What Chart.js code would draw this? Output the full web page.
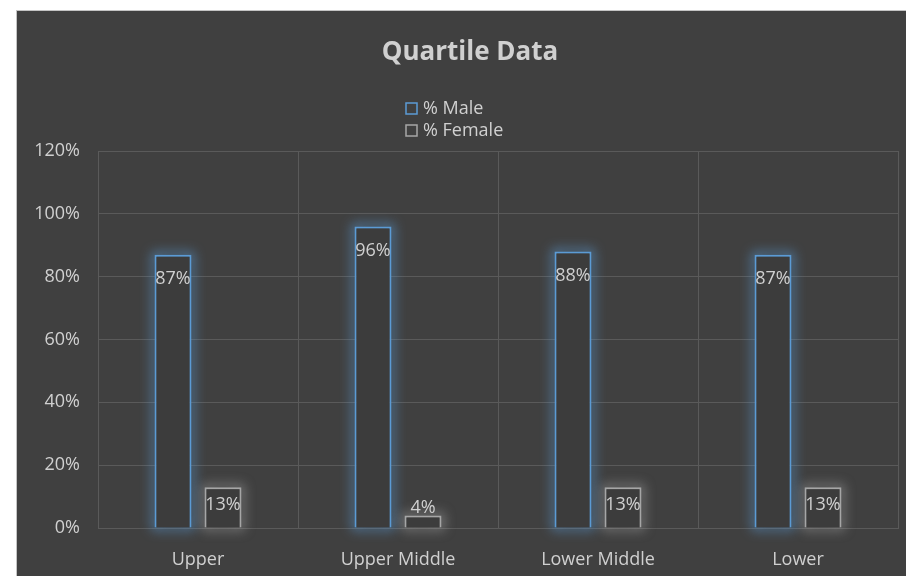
<!DOCTYPE html>
<html>
<head>
<meta charset="utf-8">
<script src="https://cdn.jsdelivr.net/npm/chart.js@4"></script>
<style>
  html, body { margin: 0; padding: 0; background: #ffffff; }
  #wrap {
    position: absolute; left: 16px; top: 10px;
    width: 889px; height: 565px;
    border-left: 1px solid #c4c4c4; border-top: 1px solid #c4c4c4;
    background: #404040;
  }
  canvas { display: block; }
</style>
</head>
<body>
<div id="wrap"><canvas id="quartileChart" width="889" height="565"></canvas></div>
<script>
// ── data ──
const chartTitle = 'Quartile Data';
const categories = ['Upper', 'Upper Middle', 'Lower Middle', 'Lower'];
const maleValues = [87, 96, 88, 87];
const femaleValues = [13, 4, 13, 13];
const yTicks = [0, 20, 40, 60, 80, 100, 120];

const FONT = "'Open Sans', 'DejaVu Sans', sans-serif";
const TEXT = '#d0d0d0';
const GRID = '#5a5a5a';

/* soft glow round the bar outlines: only the shadow of an off-canvas
   rectangle is painted, underneath the bars */
const glowPlugin = {
  id: 'glow',
  beforeDatasetDraw(chart, args) {
    const ds = chart.data.datasets[args.index];
    const ctx = chart.ctx;
    const off = 5000;
    ctx.save();
    ctx.shadowColor = ds.glowColor;
    ctx.shadowBlur = 12;
    ctx.shadowOffsetX = off;
    ctx.strokeStyle = '#000';
    ctx.lineWidth = 4;
    args.meta.data.forEach(bar => {
      const w = bar.width;
      ctx.strokeRect(bar.x - w / 2 - off, bar.y, w, bar.base - bar.y);
    });
    ctx.restore();
  }
};

/* value labels, Excel "inside end" style */
const labelPlugin = {
  id: 'valueLabels',
  afterDatasetsDraw(chart) {
    const ctx = chart.ctx;
    ctx.save();
    ctx.font = '18px ' + FONT;
    ctx.fillStyle = TEXT;
    ctx.textAlign = 'center';
    ctx.textBaseline = 'middle';
    chart.data.datasets.forEach((ds, i) => {
      chart.getDatasetMeta(i).data.forEach((bar, j) => {
        const h = bar.base - bar.y;
        const y = h > 30 ? bar.y + Math.min(24, h * 0.45) : bar.y - 8;
        ctx.fillText(ds.data[j] + '%', bar.x, y);
      });
    });
    ctx.restore();
  }
};

/* title + stacked legend above the plot */
const headerPlugin = {
  id: 'header',
  afterDraw(chart) {
    const ctx = chart.ctx;
    ctx.save();
    ctx.fillStyle = TEXT;
    ctx.textAlign = 'center';
    ctx.textBaseline = 'middle';
    ctx.font = 'bold 26px ' + FONT;
    ctx.fillText(chartTitle, 453, 42);

    ctx.font = '18px ' + FONT;
    ctx.textAlign = 'left';
    chart.data.datasets.forEach((ds, i) => {
      const y = 98 + i * 22;
      ctx.strokeStyle = ds.borderColor;
      ctx.lineWidth = 1.5;
      ctx.strokeRect(389, y - 6, 11, 11);
      ctx.fillStyle = TEXT;
      ctx.fillText(ds.label, 406, y);
    });
    ctx.restore();
  }
};

new Chart(document.getElementById('quartileChart'), {
  type: 'bar',
  data: {
    labels: categories,
    datasets: [
      {
        label: '% Male',
        data: maleValues,
        backgroundColor: '#3c3c3c',
        borderColor: '#5b9bd5',
        borderWidth: 2,
        glowColor: 'rgba(91,155,213,0.95)'
      },
      {
        label: '% Female',
        data: femaleValues,
        backgroundColor: '#3c3c3c',
        borderColor: '#a6a6a6',
        borderWidth: 2,
        glowColor: 'rgba(210,210,210,0.6)'
      }
    ]
  },
  plugins: [glowPlugin, labelPlugin, headerPlugin],
  options: {
    responsive: false,
    animation: false,
    layout: { padding: { left: 0, right: 8, top: 140, bottom: 0 } },
    datasets: { bar: { categoryPercentage: 0.5, barPercentage: 0.74 } },
    plugins: {
      legend: { display: false },
      tooltip: { enabled: false },
      title: { display: false }
    },
    scales: {
      x: {
        grid: { color: GRID, drawTicks: false, offset: true },
        border: { color: GRID },
        ticks: { color: TEXT, font: { family: FONT, size: 18 }, padding: 21 },
        afterFit(scale) { scale.height = 48; }
      },
      y: {
        min: 0,
        max: 120,
        afterBuildTicks(scale) { scale.ticks = yTicks.map(v => ({ value: v })); },
        grid: { color: GRID, drawTicks: false },
        border: { color: GRID },
        ticks: {
          color: TEXT,
          font: { family: FONT, size: 18 },
          padding: 18,
          callback: v => v + '%'
        },
        afterFit(scale) { scale.width = 81; }
      }
    }
  }
});
</script>
</body>
</html>
